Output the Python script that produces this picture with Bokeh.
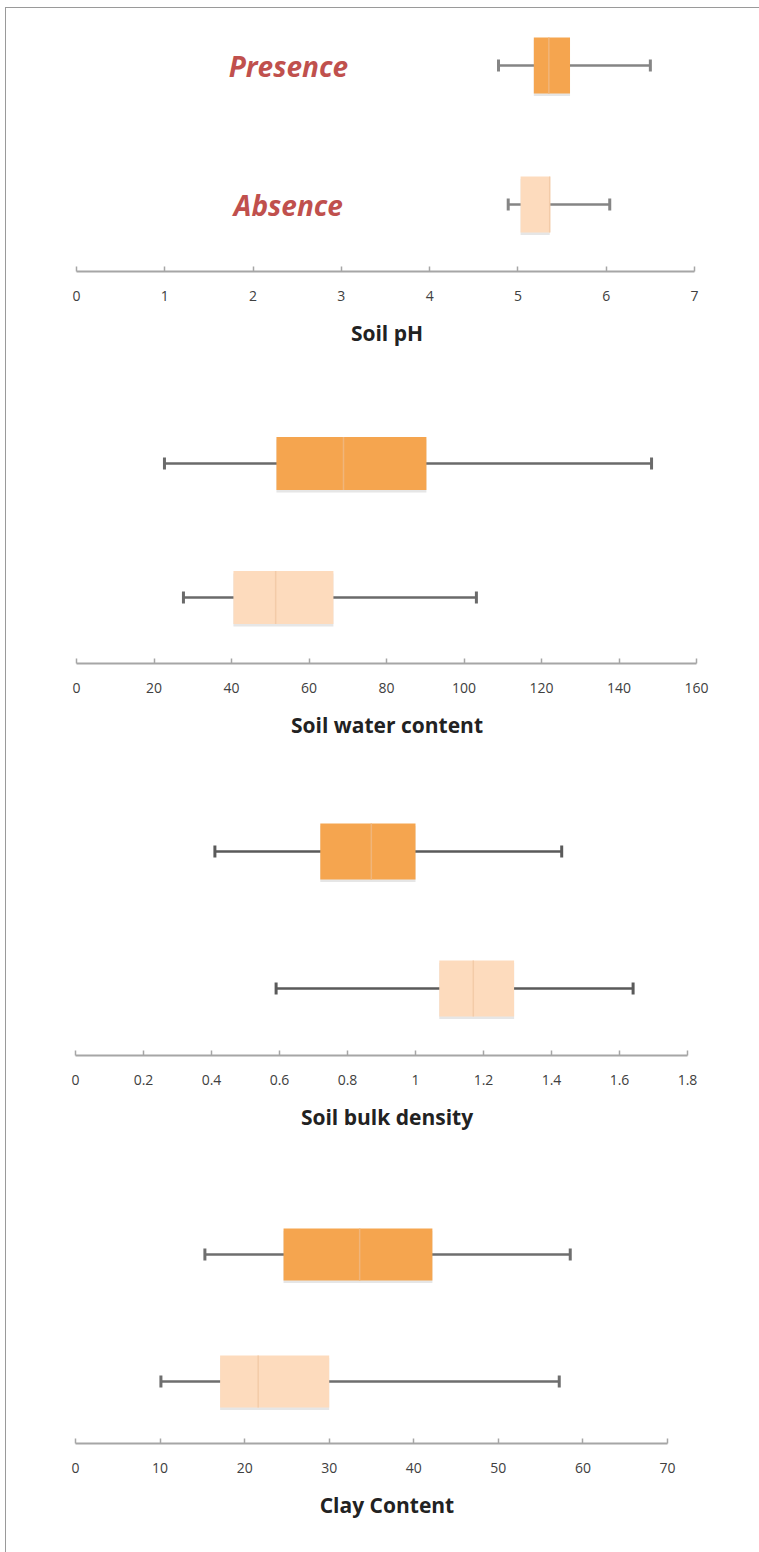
from bokeh.plotting import figure
from bokeh.layouts import column
from bokeh.models import Range1d, FixedTicker, ColumnDataSource
from bokeh.core.properties import value
from bokeh.embed import file_html
from bokeh.resources import INLINE

# ---------------- data ----------------
groups = ["Presence", "Absence"]

ph_min = [4.78, 4.89]
ph_q1 = [5.18, 5.03]
ph_med = [5.35, 5.36]
ph_q3 = [5.59, 5.36]
ph_max = [6.50, 6.04]
ph_ticks = [0, 1, 2, 3, 4, 5, 6, 7]
ph_labels = ["0", "1", "2", "3", "4", "5", "6", "7"]

water_min = [22.7, 27.6]
water_q1 = [51.6, 40.5]
water_med = [68.9, 51.4]
water_q3 = [90.3, 66.3]
water_max = [148.4, 103.2]
water_ticks = [0, 20, 40, 60, 80, 100, 120, 140, 160]
water_labels = ["0", "20", "40", "60", "80", "100", "120", "140", "160"]

bulk_min = [0.41, 0.59]
bulk_q1 = [0.72, 1.07]
bulk_med = [0.87, 1.17]
bulk_q3 = [1.00, 1.29]
bulk_max = [1.43, 1.64]
bulk_ticks = [0, 0.2, 0.4, 0.6, 0.8, 1.0, 1.2, 1.4, 1.6, 1.8]
bulk_labels = ["0", "0.2", "0.4", "0.6", "0.8", "1", "1.2", "1.4", "1.6", "1.8"]

clay_min = [15.3, 10.1]
clay_q1 = [24.6, 17.1]
clay_med = [33.6, 21.6]
clay_q3 = [42.2, 30.0]
clay_max = [58.5, 57.2]
clay_ticks = [0, 10, 20, 30, 40, 50, 60, 70]
clay_labels = ["0", "10", "20", "30", "40", "50", "60", "70"]

titles = ["Soil pH", "Soil water content", "Soil bulk density", "Clay Content"]

# ---------------- styling / layout ----------------
BOX_COLORS = ["#f5a54f", "#fddbbd"]
MED_COLORS = ["#f0b57a", "#f3cba8"]
WHISKER_COLORS = ["#858585", "#6a6a6a", "#5a5a5a", "#6e6e6e"]
LABEL_RED = "#c0504d"
FONT = "Open Sans"

OFFX, OFFY = 6, 8          # content origin after outer border
FIG_W = 759 - OFFX
FRAME_L, FRAME_R = 75, 698  # common frame (page px)

# per panel: (page top, height, axis-left px, axis-right px, axis-y px,
#             presence centre px, absence centre px, box px height)
panel_geo = [
    (8, 373, 76, 694, 271, 65, 204, 56),
    (381, 379, 76, 696, 663, 463, 597, 53),
    (760, 385, 75, 687, 1055, 851, 988, 56),
    (1145, 407, 75, 667, 1443, 1254, 1381, 52),
]

panels = [
    (ph_min, ph_q1, ph_med, ph_q3, ph_max, ph_ticks, ph_labels),
    (water_min, water_q1, water_med, water_q3, water_max, water_ticks, water_labels),
    (bulk_min, bulk_q1, bulk_med, bulk_q3, bulk_max, bulk_ticks, bulk_labels),
    (clay_min, clay_q1, clay_med, clay_q3, clay_max, clay_ticks, clay_labels),
]

figs = []
for i, ((mn, q1, md, q3, mx, ticks, tlabels), geo) in enumerate(zip(panels, panel_geo)):
    top, h, axl, axr, axy, pc, ac, boxpx = geo
    s = ac - pc  # px per y unit
    ypos = [1, 0]  # presence above absence
    y_end = 1 + (pc - top) / s
    y_start = 0 - (axy - ac) / s
    bh = boxpx / s
    cap = 6 / s
    sh = 2.5 / s

    k = (axr - axl) / (ticks[-1] - ticks[0])
    x_start = ticks[0] - (axl - FRAME_L) / k
    x_end = ticks[-1] + (FRAME_R - axr) / k

    p = figure(width=FIG_W, height=h, output_backend="svg", toolbar_location=None,
               x_range=Range1d(x_start, x_end), y_range=Range1d(y_start, y_end),
               min_border_left=FRAME_L - OFFX, min_border_right=759 - FRAME_R,
               min_border_top=0, min_border_bottom=top + h - axy)
    p.outline_line_color = None
    p.grid.visible = False
    p.yaxis.visible = False
    p.background_fill_color = "white"
    p.border_fill_color = "white"

    wc = WHISKER_COLORS[i]
    src = ColumnDataSource(dict(y=ypos, mn=mn, q1=q1, md=md, q3=q3, mx=mx,
                                color=BOX_COLORS, mcolor=MED_COLORS,
                                ys=[v - sh for v in ypos],
                                y0=[v - bh / 2 for v in ypos], y1=[v + bh / 2 for v in ypos],
                                c0=[v - cap for v in ypos], c1=[v + cap for v in ypos]))
    # whiskers
    p.segment(x0="mn", y0="y", x1="mx", y1="y", source=src, line_color=wc, line_width=2.5)
    p.segment(x0="mn", y0="c0", x1="mn", y1="c1", source=src, line_color=wc, line_width=3)
    p.segment(x0="mx", y0="c0", x1="mx", y1="c1", source=src, line_color=wc, line_width=3)
    # soft shadow + boxes
    p.hbar(y="ys", left="q1", right="q3", height=bh, source=src, fill_color="#9a9a9a",
           fill_alpha=0.25, line_color=None)
    p.hbar(y="y", left="q1", right="q3", height=bh, source=src, fill_color="color",
           line_color=None)
    p.segment(x0="md", y0="y0", x1="md", y1="y1", source=src, line_color="mcolor", line_width=1.5)

    if i == 0:
        p.text(x=[2.4, 2.4], y=ypos, text=groups, text_color=LABEL_RED,
               text_font=value(FONT), text_font_size="28px", text_font_style="bold italic",
               text_align="center", text_baseline="middle")

    ax = p.xaxis[0]
    ax.ticker = FixedTicker(ticks=ticks)
    ax.bounds = (ticks[0], ticks[-1])
    ax.major_label_overrides = {t: l for t, l in zip(ticks, tlabels)}
    ax.axis_line_color = "#a6a6a6"
    ax.axis_line_width = 2
    ax.major_tick_line_color = "#a6a6a6"
    ax.major_tick_line_width = 1.5
    ax.major_tick_in = 5
    ax.major_tick_out = 0
    ax.minor_tick_line_color = None
    ax.major_label_standoff = 19
    ax.major_label_text_font = FONT
    ax.major_label_text_font_size = "14px"
    ax.major_label_text_color = "#404040"
    ax.axis_label = titles[i]
    ax.axis_label_text_font = FONT
    ax.axis_label_text_font_size = "21px"
    ax.axis_label_text_font_style = "bold"
    ax.axis_label_text_color = "#222222"
    ax.axis_label_standoff = 15
    figs.append(p)

layout = column(*figs, spacing=0, margin=(7, 0, 0, 5),
                styles={"border-top": "1px solid #9a9a9a", "border-left": "1px solid #9a9a9a"})

open("out.html", "w").write(file_html(layout, INLINE))
